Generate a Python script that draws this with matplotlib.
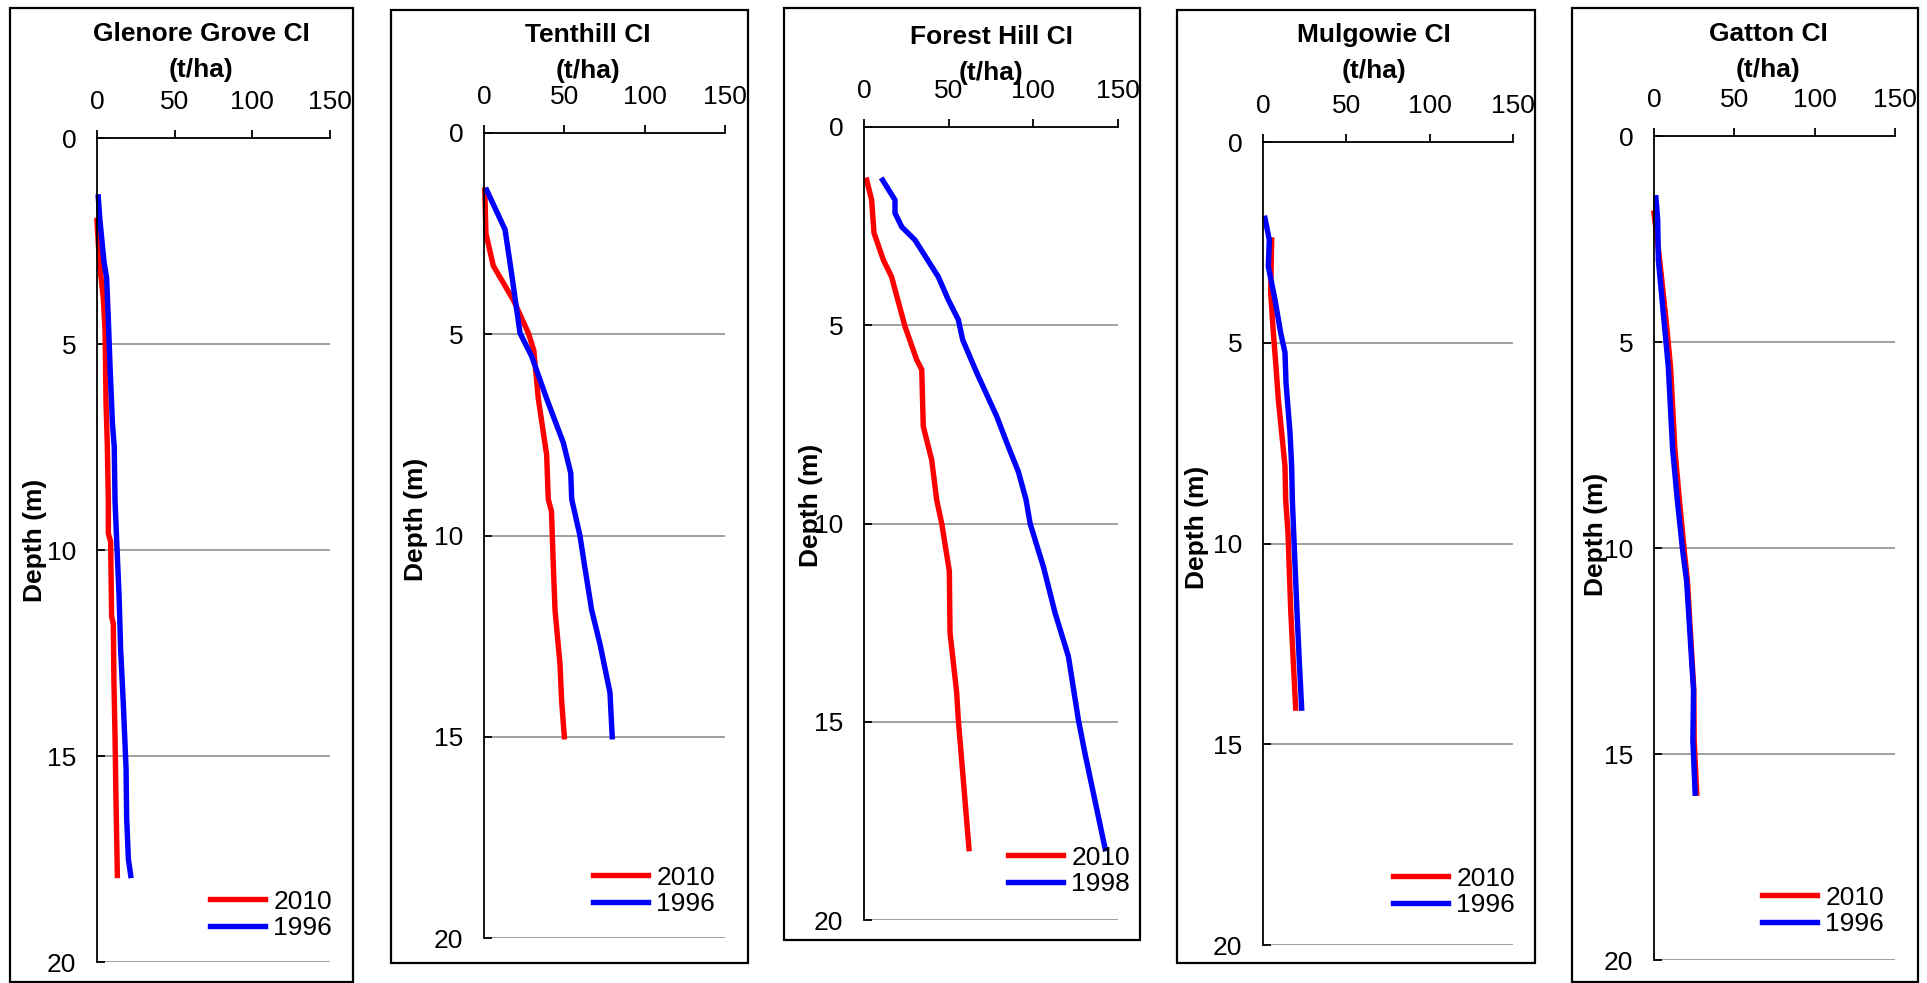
import matplotlib
matplotlib.use("Agg")
import matplotlib.pyplot as plt
from matplotlib.patches import Rectangle

plt.rcParams["font.family"] = ["Liberation Sans", "DejaVu Sans"]

# depth (m) and carbon (t/ha)
glenore_d_2010 = [2.0, 3.0, 3.9, 4.7, 6.4, 7.4, 8.8, 9.6, 9.8, 11.6, 11.8, 13.2, 14.5, 16.0, 17.9]
glenore_v_2010 = [0.0, 1.5, 4.1, 5.2, 5.8, 6.6, 7.3, 7.3, 8.8, 9.4, 10.5, 10.9, 11.6, 12.2, 13.1]
glenore_d_1996 = [1.43, 2.0, 3.0, 3.4, 4.4, 5.55, 6.9, 7.5, 8.8, 9.8, 11.1, 12.4, 13.7, 15.3, 16.5, 17.5, 17.9]
glenore_v_1996 = [0.8, 1.9, 4.5, 6.2, 7.3, 8.4, 9.9, 11.1, 11.6, 12.7, 14.2, 15.2, 16.9, 18.7, 19.1, 20.2, 21.7]

tenthill_d_2010 = [1.42, 2.5, 3.3, 4.15, 4.97, 5.4, 6.6, 8.0, 9.1, 9.4, 10.7, 11.85, 13.2, 14.1, 15.0]
tenthill_v_2010 = [0.5, 1.2, 5.8, 18.3, 27.6, 31.0, 33.8, 39.0, 40.0, 42.0, 43.1, 44.2, 47.3, 48.3, 50.0]
tenthill_d_1996 = [1.42, 2.4, 3.5, 4.97, 5.55, 6.6, 7.7, 8.45, 9.1, 10.0, 10.8, 11.85, 12.7, 13.9, 15.0]
tenthill_v_1996 = [1.7, 13.1, 17.2, 22.4, 29.7, 39.0, 49.4, 54.0, 54.6, 59.7, 62.8, 67.0, 72.2, 78.4, 79.8]

forest_d_2010 = [1.34, 1.84, 2.67, 3.35, 3.78, 5.03, 5.87, 6.12, 7.55, 8.4, 9.4, 10.0, 11.2, 12.75, 14.25, 14.95, 18.2]
forest_v_2010 = [1.6, 4.5, 5.9, 11.4, 16.3, 24.2, 31.1, 34.1, 35.0, 40.0, 42.9, 45.9, 50.4, 50.8, 54.7, 55.7, 62.0]
forest_d_1998 = [1.34, 1.84, 2.17, 2.52, 2.85, 3.78, 4.36, 4.86, 5.37, 6.2, 7.3, 7.96, 8.7, 9.4, 10.0,
                 11.1, 12.25, 13.35, 14.95, 15.8, 18.2]
forest_v_1998 = [11.0, 18.3, 18.3, 22.3, 30.1, 43.9, 49.8, 55.7, 58.3, 66.6, 78.4, 84.3, 91.2, 95.7, 98.1,
                 106.0, 112.8, 120.7, 126.6, 130.5, 142.4]

mulgowie_d_2010 = [2.44, 3.76, 4.75, 5.6, 6.42, 7.24, 8.08, 8.9, 9.73, 11.64, 12.8, 14.1]
mulgowie_v_2010 = [5.2, 4.6, 6.2, 7.8, 9.2, 11.2, 13.2, 13.6, 15.0, 16.6, 18.0, 19.6]
mulgowie_d_1996 = [1.9, 2.44, 3.1, 3.93, 4.75, 5.25, 6.0, 7.24, 8.08, 8.9, 9.73, 11.7, 12.96, 14.1]
mulgowie_v_1996 = [1.2, 3.8, 3.2, 7.2, 10.6, 13.2, 13.8, 16.2, 17.2, 17.6, 18.4, 20.4, 21.8, 23.2]

gatton_d_2010 = [1.87, 3.0, 4.47, 5.6, 7.6, 8.83, 10.05, 10.8, 13.45, 14.66, 15.95]
gatton_v_2010 = [0.0, 3.5, 7.5, 10.3, 13.0, 15.8, 18.8, 20.8, 24.8, 25.0, 26.6]
gatton_d_1996 = [1.5, 2.04, 3.0, 4.47, 5.6, 7.6, 8.83, 10.05, 10.8, 13.45, 14.66, 15.95]
gatton_v_1996 = [1.2, 2.3, 2.7, 6.2, 8.9, 11.6, 14.5, 17.8, 20.3, 24.6, 24.2, 25.6]

sites = ["Glenore Grove CI", "Tenthill CI", "Forest Hill CI", "Mulgowie CI", "Gatton CI"]
new_year = ["2010", "2010", "2010", "2010", "2010"]
old_year = ["1996", "1996", "1998", "1996", "1996"]
new_depth = [glenore_d_2010, tenthill_d_2010, forest_d_2010, mulgowie_d_2010, gatton_d_2010]
new_vals = [glenore_v_2010, tenthill_v_2010, forest_v_2010, mulgowie_v_2010, gatton_v_2010]
old_depth = [glenore_d_1996, tenthill_d_1996, forest_d_1998, mulgowie_d_1996, gatton_d_1996]
old_vals = [glenore_v_1996, tenthill_v_1996, forest_v_1998, mulgowie_v_1996, gatton_v_1996]

W, H = 1927, 983
fig = plt.figure(figsize=(W / 100, H / 100), dpi=100)

# layout in pixels: axes (left, right, top, bottom), frame (left, right, top, bottom)
axes_px = [(97, 330, 138, 962), (484, 725, 133, 938), (864, 1118, 127, 920),
           (1263, 1513, 142, 945), (1654, 1895, 136, 960)]
frame_px = [(10, 353, 8, 982), (391, 748, 10, 963), (784, 1140, 8, 940),
            (1177, 1535, 10, 963), (1572, 1918, 8, 982)]
title_px = [(201, 34), (588, 35), (991, 37), (1374, 35), (1768, 34)]
ylab_px = [(35, 540), (416, 519), (811, 505), (1197, 527), (1596, 534)]
legend_px = [(210, 915), (593, 891), (1008, 871), (1393, 892), (1762, 911)]


def fx(x):
    return x / W


def fy(y):
    return 1 - y / H


for i in range(5):
    l, r, t, b = axes_px[i]
    ax = fig.add_axes([fx(l), fy(b), fx(r) - fx(l), fy(t) - fy(b)])

    ax.plot(new_vals[i], new_depth[i], color="#ff0000", lw=3.9, label=new_year[i],
            solid_joinstyle="miter", clip_on=False)
    ax.plot(old_vals[i], old_depth[i], color="#0000ff", lw=3.9, label=old_year[i],
            solid_joinstyle="miter", clip_on=False)

    ax.set_xlim(0, 150)
    ax.set_ylim(20, 0)
    ax.set_xticks([0, 50, 100, 150])
    ax.set_yticks([0, 5, 10, 15, 20])
    ax.xaxis.tick_top()
    ax.tick_params(axis="x", direction="out", length=6, width=1.3, labelsize=19, pad=11)
    ax.tick_params(axis="y", direction="in", length=6, width=1.3, labelsize=19, pad=15)
    ax.grid(axis="y", color="#999999", lw=1.3)
    ax.set_axisbelow(True)
    for s in ["right", "bottom"]:
        ax.spines[s].set_visible(False)
    for s in ["left", "top"]:
        ax.spines[s].set_linewidth(1.3)

    tx, ty = title_px[i]
    fig.text(fx(tx), fy(ty), sites[i], ha="center", va="center", fontsize=19, fontweight="bold")
    fig.text(fx(tx), fy(ty + 36), "(t/ha)", ha="center", va="center", fontsize=19, fontweight="bold")
    yx, yy = ylab_px[i]
    fig.text(fx(yx), fy(yy), "Depth (m)", ha="center", va="center", rotation=90,
             fontsize=19, fontweight="bold")

    lx, ly = legend_px[i]
    ax.legend(loc="center left", bbox_to_anchor=(fx(lx), fy(ly)), bbox_transform=fig.transFigure,
              frameon=False, fontsize=19, handlelength=2.1, handletextpad=0.3,
              borderpad=0, borderaxespad=0, labelspacing=0.1)

    fl, fr, ft, fb = frame_px[i]
    fig.patches.append(Rectangle((fx(fl), fy(fb)), fx(fr) - fx(fl), fy(ft) - fy(fb),
                                 transform=fig.transFigure, fill=False, lw=1.6, ec="black"))

fig.savefig("out.png", dpi=100, facecolor="white")
